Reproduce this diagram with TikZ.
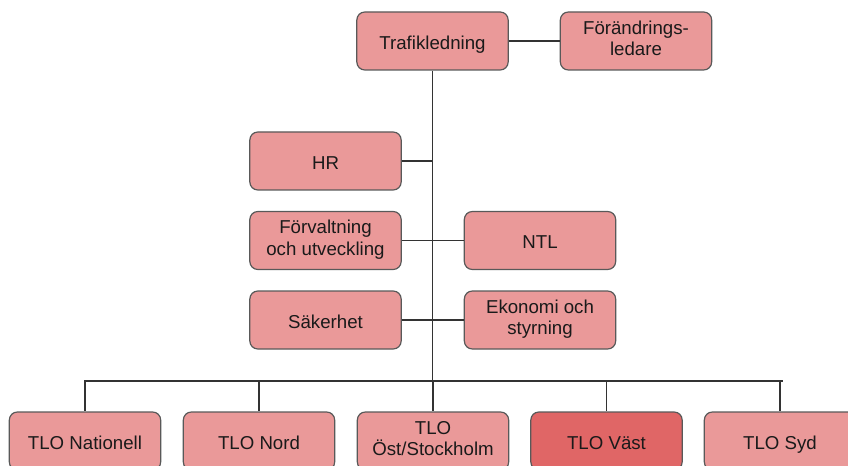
\documentclass[tikz,border=0pt]{standalone}
\usepackage{fontspec}
\setmainfont{Liberation Sans}
\definecolor{boxfill}{HTML}{EA9999}
\definecolor{boxhot}{HTML}{E06666}
\definecolor{boxedge}{HTML}{595959}
\definecolor{wire}{HTML}{333333}
\definecolor{ink}{HTML}{1A1A1A}
\tikzset{
  unit/.style={draw=boxedge, line width=0.9pt, fill=boxfill, rounded corners=6pt,
    minimum width=113.5pt, minimum height=43.5pt, inner sep=1pt,
    align=center, text=ink, font=\fontsize{14}{16}\selectfont,
    % fixed struts so every label sits on the same baseline grid
    execute at begin node={\rule{0pt}{16.2pt}},
    execute at end node={\rule[-4pt]{0pt}{4pt}}},
  unithot/.style={unit, fill=boxhot},
  link/.style={draw=wire, line width=0.8pt}
}
\begin{document}
\begin{tikzpicture}[x=0.75pt, y=-0.75pt]
\useasboundingbox (0,0) rectangle (848,466);
\clip (0,0) rectangle (848,466);

% management level
\node[unit] (top)  at (432.5,41) {Trafikledning};
\node[unit] (chg)  at (636,41)   {Förändrings-\\ledare};

% staff functions
\node[unit] (hr)   at (325.5,161)   {HR};
\node[unit] (fou)  at (325.5,240.5) {Förvaltning\\och utveckling};
\node[unit] (ntl)  at (540,240.5)   {NTL};
\node[unit] (sak)  at (325.5,320)   {Säkerhet};
\node[unit] (eko)  at (540,320)     {Ekonomi och\\styrning};

% regional units
\node[unit]    (nat)  at (85,441)    {TLO Nationell};
\node[unit]    (nord) at (259,441)   {TLO Nord};
\node[unit]    (ost)  at (433,441)   {TLO\\Öst/Stockholm};
\node[unithot] (vast) at (606.5,441) {TLO Väst};
\node[unit]    (syd)  at (780,441)   {TLO Syd};

% trunk and bus
\coordinate (busL) at (84,381);
\coordinate (busR) at (783,381);
\coordinate (busM) at (top.south |- busL);
\coordinate (hrJ)  at (top.south |- hr.east);

\draw[link] (top.east) -- (chg.west);
\draw[link] (top.south) -- (busM);
\draw[link] (hr.east) -- (hrJ);
\draw[link] (fou.east) -- (ntl.west);
\draw[link] (sak.east) -- (eko.west);
\draw[link] (busL) -- (busR);
\foreach \n in {nat,nord,ost,vast,syd}
  \draw[link] (\n.north |- busL) -- (\n.north);
\end{tikzpicture}
\end{document}
